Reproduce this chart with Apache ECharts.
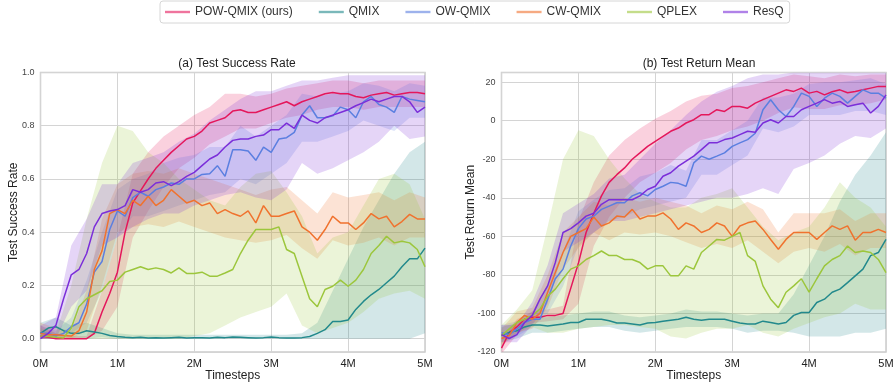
<!DOCTYPE html>
<html>
<head>
<meta charset="utf-8">
<script src="https://cdn.jsdelivr.net/npm/echarts@6/dist/echarts.min.js"></script>
<style>
html,body{margin:0;padding:0;background:#fff;}
#chart{width:894px;height:383px;}
</style>
</head>
<body>
<div id="chart"></div>
<script>
// ---------- data ----------
const SERIES_NAMES = ['POW-QMIX (ours)', 'QMIX', 'OW-QMIX', 'CW-QMIX', 'QPLEX', 'ResQ'];
const COLORS = ['#e4175b', '#22898c', '#5b7fe0', '#f0722e', '#9cc63c', '#7b2ed9'];
const X_TICKS = ['0M', '1M', '2M', '3M', '4M', '5M'];

// timesteps (millions) for the mean curves
const T = [0,0.1,0.2,0.3,0.4,0.5,0.6,0.7,0.8,0.9,1.0,1.1,1.2,1.3,1.4,1.5,1.6,1.7,1.8,1.9,2.0,
  2.1,2.2,2.3,2.4,2.5,2.6,2.7,2.8,2.9,3.0,3.1,3.2,3.3,3.4,3.5,3.6,3.7,3.8,3.9,4.0,
  4.1,4.2,4.3,4.4,4.5,4.6,4.7,4.8,4.9,5.0];
// timesteps for the shaded bands
const TB = [0,0.2,0.4,0.6,0.8,1.0,1.2,1.4,1.6,1.8,2.0,2.2,2.4,2.6,2.8,3.0,3.2,3.4,3.6,3.8,4.0,4.2,4.4,4.6,4.8,5.0];

// ---- (a) Test Success Rate ----
const sr_pow = [0.01,0.005,0.0,0.0,0.0,0.0,0.0,0.02,0.10,0.17,0.25,0.40,0.51,0.555,0.60,0.64,0.67,0.70,0.725,0.75,0.76,
  0.78,0.81,0.82,0.83,0.855,0.86,0.85,0.85,0.86,0.87,0.88,0.89,0.875,0.89,0.90,0.91,0.92,0.925,0.92,0.92,
  0.91,0.905,0.915,0.92,0.925,0.915,0.92,0.925,0.925,0.92];
const sr_qmix = [0.02,0.04,0.045,0.03,0.02,0.02,0.03,0.025,0.02,0.012,0.008,0.005,0.004,0.005,0.003,0.004,0.003,0.004,0.005,0.003,0.004,
  0.004,0.003,0.005,0.004,0.006,0.005,0.004,0.003,0.004,0.006,0.004,0.003,0.003,0.004,0.008,0.02,0.034,0.065,0.065,0.07,
  0.11,0.14,0.165,0.185,0.21,0.235,0.27,0.30,0.30,0.34];
const sr_ow = [0.02,0.02,0.01,0.02,0.045,0.06,0.13,0.25,0.29,0.41,0.48,0.46,0.53,0.55,0.535,0.56,0.57,0.585,0.58,0.60,0.60,
  0.617,0.62,0.65,0.61,0.71,0.71,0.705,0.67,0.72,0.70,0.75,0.755,0.775,0.84,0.875,0.83,0.83,0.837,0.87,0.86,
  0.83,0.89,0.91,0.88,0.87,0.85,0.91,0.90,0.895,0.89];
const sr_cw = [0.02,0.015,0.015,0.012,0.01,0.03,0.10,0.26,0.33,0.47,0.485,0.47,0.52,0.50,0.535,0.50,0.52,0.56,0.535,0.51,0.52,
  0.50,0.51,0.47,0.485,0.47,0.46,0.48,0.435,0.50,0.46,0.46,0.47,0.48,0.42,0.40,0.37,0.41,0.46,0.435,0.435,
  0.41,0.435,0.47,0.45,0.46,0.42,0.44,0.467,0.45,0.45];
const sr_qplex = [0.01,0.008,0.005,0.003,0.04,0.12,0.15,0.165,0.18,0.215,0.22,0.25,0.26,0.27,0.26,0.266,0.26,0.247,0.266,0.245,0.245,
  0.25,0.235,0.235,0.247,0.26,0.32,0.37,0.41,0.41,0.41,0.42,0.335,0.32,0.235,0.15,0.12,0.185,0.197,0.22,0.197,
  0.22,0.26,0.32,0.35,0.385,0.36,0.366,0.36,0.335,0.27];
const sr_resq = [0.0,0.02,0.05,0.15,0.24,0.26,0.32,0.42,0.47,0.48,0.485,0.50,0.56,0.55,0.56,0.585,0.59,0.575,0.59,0.61,0.625,
  0.65,0.675,0.69,0.72,0.745,0.75,0.75,0.76,0.765,0.785,0.785,0.81,0.79,0.84,0.82,0.81,0.83,0.84,0.85,0.86,
  0.875,0.887,0.90,0.89,0.90,0.91,0.91,0.89,0.85,0.87];

const sr_pow_lo = [0,0,0,0,0.03,0.12,0.38,0.48,0.57,0.64,0.68,0.73,0.76,0.79,0.79,0.81,0.83,0.84,0.86,0.87,0.87,0.86,0.87,0.87,0.87,0.87];
const sr_pow_hi = [0.05,0.02,0.01,0.01,0.18,0.38,0.62,0.70,0.76,0.80,0.84,0.87,0.92,0.92,0.91,0.92,0.94,0.95,0.96,0.97,0.97,0.96,0.97,0.97,0.97,0.97];
const sr_qmix_lo = [0,0.01,0,0,0.005,0,0,0,0,0,0,0,0,0,0,0,0,0,0,0,0,0,0,0,0,0.02];
const sr_qmix_hi = [0.06,0.08,0.05,0.06,0.04,0.02,0.015,0.015,0.015,0.015,0.015,0.015,0.015,0.015,0.015,0.015,0.015,0.02,0.06,0.18,0.30,0.42,0.52,0.62,0.70,0.74];
const sr_ow_lo = [0,0,0.02,0.06,0.18,0.38,0.46,0.46,0.48,0.50,0.52,0.54,0.55,0.60,0.58,0.62,0.66,0.74,0.74,0.76,0.78,0.82,0.80,0.78,0.83,0.83];
const sr_ow_hi = [0.05,0.03,0.08,0.22,0.40,0.56,0.60,0.62,0.66,0.68,0.69,0.72,0.72,0.80,0.76,0.80,0.84,0.92,0.91,0.92,0.93,0.96,0.95,0.93,0.96,0.95];
const sr_cw_lo = [0,0,0,0.03,0.20,0.40,0.42,0.43,0.42,0.44,0.42,0.40,0.38,0.37,0.36,0.37,0.39,0.34,0.30,0.37,0.35,0.36,0.38,0.35,0.38,0.38];
const sr_cw_hi = [0.06,0.04,0.03,0.18,0.45,0.58,0.62,0.63,0.62,0.64,0.62,0.60,0.58,0.56,0.54,0.56,0.57,0.52,0.47,0.55,0.53,0.54,0.55,0.52,0.55,0.53];
const sr_qplex_lo = [0,0,0,0,0,0,0,0,0,0,0.01,0.02,0.05,0.08,0.10,0.12,0.17,0.05,0.02,0.04,0.06,0.10,0.15,0.17,0.18,0.15];
const sr_qplex_hi = [0.04,0.02,0.20,0.45,0.66,0.80,0.78,0.70,0.66,0.60,0.56,0.52,0.50,0.57,0.62,0.63,0.55,0.46,0.32,0.38,0.40,0.50,0.60,0.62,0.58,0.45];
const sr_resq_lo = [0,0,0.12,0.18,0.35,0.38,0.42,0.45,0.47,0.47,0.50,0.52,0.54,0.55,0.53,0.52,0.56,0.66,0.62,0.64,0.67,0.70,0.74,0.80,0.75,0.76];
const sr_resq_hi = [0.05,0.08,0.35,0.45,0.58,0.58,0.66,0.68,0.70,0.74,0.77,0.82,0.86,0.90,0.93,0.93,0.95,0.97,0.97,0.98,0.99,0.99,0.99,0.99,0.99,0.99];

// ---- (b) Test Return Mean ----
const rm_pow = [-118,-110,-107,-103,-102,-102,-101,-101,-100,-87,-74,-58,-48,-39,-32,-28,-24.5,-20,-16.7,-13.3,-10.7,
  -8.1,-5.5,-3.8,-1.2,0.5,3.1,3.1,5.7,4.8,7.4,7.4,6.5,9.1,10.9,12.6,14.3,16,15.2,16.9,14.3,
  15.2,13.4,15,16,14.5,15.2,16,16.9,17.8,17.8];
const rm_qmix = [-111.5,-109.8,-109,-107,-106,-106,-106.5,-106,-105.5,-104.7,-104.7,-103,-103,-103,-103.8,-105,-105,-105.5,-106,-105,-104.7,
  -104,-103.5,-103,-102,-103,-103.5,-103,-103,-103,-104,-105,-105.5,-105.5,-104,-104.7,-105.5,-104.7,-101,-99.5,-99.5,
  -94.3,-92.6,-89,-87.4,-84,-80.5,-77,-70,-68.4,-61.6];
const rm_ow = [-110,-111,-108,-104.7,-103,-103,-92.6,-82,-77,-65,-56,-51,-49.5,-46,-44.3,-42.6,-42.6,-39,-37.4,-39,-35.7,
  -34,-32,-32.5,-34,-21.9,-18.4,-20,-18.4,-16.7,-13.3,-11.5,-9.8,-6.5,5.7,10.9,5.7,2.2,7.4,14.3,12.6,
  7.4,11.7,14.3,12.6,9.1,12.6,16,14.3,14.3,11.7];
const rm_cw = [-113,-111.5,-104.7,-101,-103,-100,-89,-78.8,-68.4,-60,-58,-56,-50,-54.6,-53,-49.5,-50,-46,-51,-49.5,-49.5,
  -47.8,-51,-56.4,-53,-54.6,-58,-56.4,-53,-54.6,-60,-54.6,-53,-52,-56.4,-61.6,-66.7,-61.6,-58,-58,-58,
  -61.6,-58,-54.6,-56.4,-54.6,-62,-58,-58,-56.4,-58];
const rm_qplex = [-111.5,-108,-104.7,-103,-101,-97.8,-91,-87.4,-82,-77,-75.3,-72,-70,-67.6,-70,-70,-72,-72,-73.6,-77,-75.3,
  -75.3,-80.5,-80.5,-75.3,-77,-68.4,-65,-61.6,-62,-60,-58,-70,-73,-85.7,-92.6,-97,-89,-85.7,-82,-89,
  -82,-75.3,-72,-70,-65,-68.4,-67.6,-68.4,-72,-78.8];
const rm_resq = [-111,-113,-111,-104.7,-101,-92.6,-85.7,-73.6,-58,-56,-53,-49.5,-48,-43.4,-41,-41,-41,-41,-39,-35.7,-34,
  -28.8,-27,-23.6,-21,-18.4,-15,-11.5,-11.5,-9.8,-9,-7.2,-5.5,-6,-1.2,0.5,-1.2,2.2,2.2,5.7,7.4,
  9.1,10.9,9.1,10,7.4,8.3,9.1,4,7.4,13.4];

const rm_pow_lo = [-121,-111,-105,-104,-103,-95,-65,-50,-40,-32,-27,-22,-15,-10,-8,-5,-3,0,4,7,6,6,8,8,9,11];
const rm_pow_hi = [-113,-103,-99,-98,-96,-52,-32,-18,-10,-4,1,5,10,13,14,17,18,20,22,24,23,22,24,23,24,24];
const rm_qmix_lo = [-115,-113,-110,-110,-109,-108,-107,-107,-109,-110,-109,-108,-107,-107,-107,-108,-110,-109,-109,-110,-112,-112,-112,-110,-110,-108];
const rm_qmix_hi = [-107,-105,-102,-102,-101,-100,-99,-99,-101,-102,-101,-100,-98,-99,-99,-100,-101,-100,-100,-90,-75,-60,-42,-28,-18,-6];
const rm_ow_lo = [-114,-112,-107,-100,-86,-65,-58,-52,-50,-46,-44,-42,-40,-28,-28,-23,-18,-4,-6,-3,3,3,3,5,5,3];
const rm_ow_hi = [-106,-104,-99,-85,-68,-47,-41,-36,-35,-29,-27,-23,-26,-10,-10,-5,0,12,12,14,19,20,20,21,22,19];
const rm_cw_lo = [-117,-110,-108,-97,-77,-66,-58,-62,-58,-59,-58,-60,-63,-66,-64,-66,-62,-68,-74,-68,-66,-68,-64,-70,-66,-66];
const rm_cw_hi = [-108,-99,-97,-80,-58,-50,-42,-44,-40,-42,-40,-42,-44,-48,-44,-46,-42,-46,-58,-48,-48,-48,-46,-52,-48,-48];
const rm_qplex_lo = [-116,-110,-107,-110,-110,-108,-107,-106,-106,-107,-108,-112,-113,-110,-108,-108,-106,-110,-112,-108,-105,-102,-100,-95,-98,-98];
const rm_qplex_hi = [-106,-98,-88,-55,-20,-5,-8,-20,-30,-38,-42,-45,-45,-40,-38,-35,-45,-55,-62,-58,-55,-45,-32,-40,-45,-55];
const rm_resq_lo = [-115,-115,-106,-95,-68,-63,-58,-52,-52,-50,-48,-46,-44,-42,-40,-40,-38,-35,-38,-25,-22,-18,-12,-8,-9,-4];
const rm_resq_hi = [-106,-106,-94,-75,-48,-43,-38,-30,-28,-20,-12,-5,3,10,15,18,22,24,24,25,25,25,25,25,25,25];

// ---------- build ----------
const chart = echarts.init(document.getElementById('chart'), null, {renderer: 'canvas'});
const FONT = 'Liberation Sans, Arial, sans-serif';

const meansA = [sr_pow, sr_qmix, sr_ow, sr_cw, sr_qplex, sr_resq];
const loA = [sr_pow_lo, sr_qmix_lo, sr_ow_lo, sr_cw_lo, sr_qplex_lo, sr_resq_lo];
const hiA = [sr_pow_hi, sr_qmix_hi, sr_ow_hi, sr_cw_hi, sr_qplex_hi, sr_resq_hi];
const meansB = [rm_pow, rm_qmix, rm_ow, rm_cw, rm_qplex, rm_resq];
const loB = [rm_pow_lo, rm_qmix_lo, rm_ow_lo, rm_cw_lo, rm_qplex_lo, rm_resq_lo];
const hiB = [rm_pow_hi, rm_qmix_hi, rm_ow_hi, rm_cw_hi, rm_qplex_hi, rm_resq_hi];

function bandSeries(gi, k, lo, hi) {
  const data = TB.map((t, i) => [t, lo[i], hi[i]]);
  return {
    type: 'custom', xAxisIndex: gi, yAxisIndex: gi, z: 1, silent: true, clip: true,
    encode: {x: 0, y: [1, 2]},
    data: data,
    renderItem: function (params, api) {
      if (params.dataIndex !== 0) return null;
      const pts = [];
      for (let i = 0; i < data.length; i++) pts.push(api.coord([data[i][0], data[i][2]]));
      for (let i = data.length - 1; i >= 0; i--) pts.push(api.coord([data[i][0], data[i][1]]));
      return {type: 'polygon', shape: {points: pts}, style: {fill: COLORS[k], opacity: 0.2}};
    }
  };
}

const series = [];
[[meansA, loA, hiA], [meansB, loB, hiB]].forEach((g, gi) => {
  for (let k = 0; k < 6; k++) series.push(bandSeries(gi, k, g[1][k], g[2][k]));
  for (let k = 0; k < 6; k++) {
    series.push({
      name: SERIES_NAMES[k], type: 'line', xAxisIndex: gi, yAxisIndex: gi, z: 3,
      showSymbol: false, symbol: 'none', smooth: false,
      data: T.map((t, i) => [t, g[0][k][i]]),
      lineStyle: {width: 1.5, color: COLORS[k]}, itemStyle: {color: COLORS[k]}
    });
  }
});

function xAxis(gi) {
  return {
    type: 'value', gridIndex: gi, min: 0, max: 5, interval: 1,
    name: 'Timesteps', nameLocation: 'middle', nameGap: 18, nameMoveOverlap: false,
    nameTextStyle: {fontFamily: FONT, fontSize: 12, color: '#222'},
    axisLine: {show: false}, axisTick: {show: false},
    axisLabel: {formatter: v => X_TICKS[Math.round(v)], fontFamily: FONT, fontSize: 11, color: '#222', margin: 6},
    splitLine: {show: true, lineStyle: {color: '#d4d4d4', width: 1}}
  };
}

const option = {
  backgroundColor: '#fff',
  animation: false,
  legend: {
    data: SERIES_NAMES, left: 160, top: 1,
    padding: [5, 6, 5, 5], itemGap: 26, itemWidth: 25, itemHeight: 12,
    borderColor: '#d6d6d6', borderWidth: 1, borderRadius: 3,
    icon: 'path://M0,4.8 L25,4.8 L25,7.2 L0,7.2 Z',
    textStyle: {fontFamily: FONT, fontSize: 12, color: '#333'},
    itemStyle: {opacity: 0.6}
  },
  title: [
    {text: '(a) Test Success Rate', left: 232, top: 53, textAlign: 'center',
     textStyle: {fontFamily: FONT, fontSize: 12, fontWeight: 'normal', color: '#222'}},
    {text: '(b) Test Return Mean', left: 694, top: 53, textAlign: 'center',
     textStyle: {fontFamily: FONT, fontSize: 12, fontWeight: 'normal', color: '#222'}}
  ],
  grid: [
    {left: 40.5, top: 72.5, width: 384.5, height: 279.5, outerBoundsMode: 'none', containLabel: false,
     show: true, borderColor: '#cccccc', borderWidth: 1.5, backgroundColor: '#fff'},
    {left: 501.5, top: 72.5, width: 384.5, height: 279.5, outerBoundsMode: 'none', containLabel: false,
     show: true, borderColor: '#cccccc', borderWidth: 1.5, backgroundColor: '#fff'}
  ],
  xAxis: [xAxis(0), xAxis(1)],
  yAxis: [
    {type: 'value', gridIndex: 0, min: -0.05, max: 1.0,
     name: 'Test Success Rate', nameLocation: 'middle', nameGap: 21, nameMoveOverlap: false,
     nameTextStyle: {fontFamily: FONT, fontSize: 12, color: '#222'},
     axisLine: {show: false}, axisTick: {show: false},
     axisLabel: {fontFamily: FONT, fontSize: 9, color: '#444', margin: 6,
       formatter: v => (Math.abs(v * 5 - Math.round(v * 5)) < 1e-6 ? v.toFixed(1) : '')},
     splitLine: {show: true, lineStyle: {color: '#d4d4d4', width: 1}}},
    {type: 'value', gridIndex: 1, min: -120, max: 25, interval: 20,
     name: 'Test Return Mean', nameLocation: 'middle', nameGap: 25, nameMoveOverlap: false,
     nameTextStyle: {fontFamily: FONT, fontSize: 12, color: '#222'},
     axisLine: {show: false}, axisTick: {show: false},
     axisLabel: {fontFamily: FONT, fontSize: 9, color: '#444', margin: 6, showMaxLabel: false,
       formatter: v => (v % 20 === 0 ? String(v) : '')},
     splitLine: {show: true, lineStyle: {color: '#d4d4d4', width: 1}}}
  ],
  series: series
};
chart.setOption(option);
</script>
</body>
</html>
